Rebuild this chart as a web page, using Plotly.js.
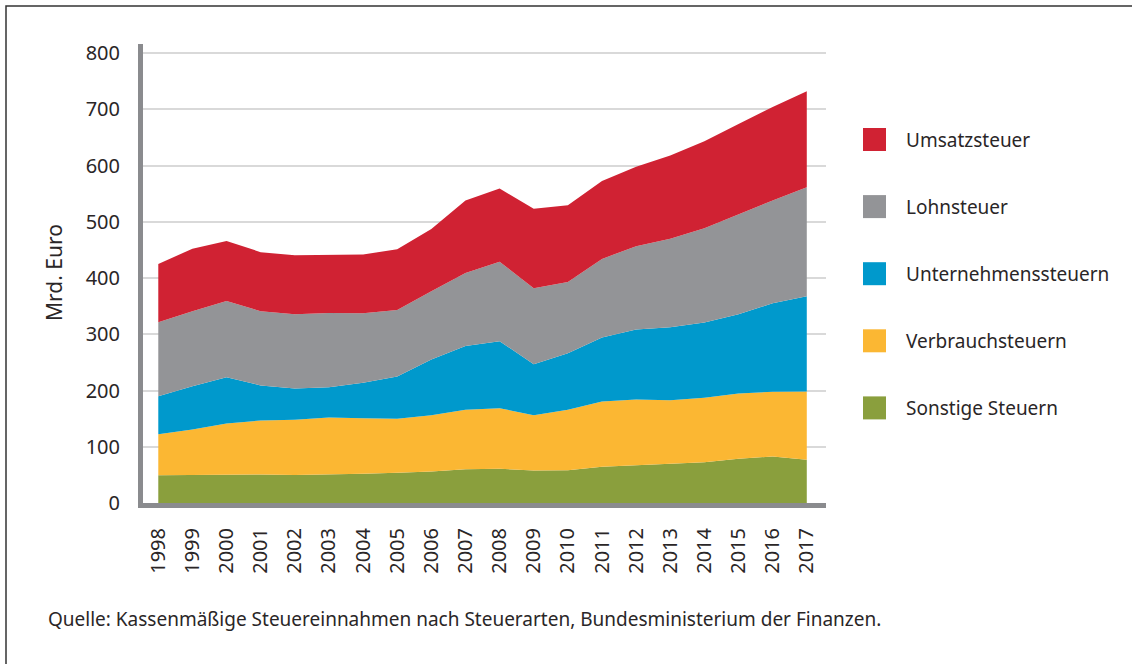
<!DOCTYPE html>
<html>
<head>
<meta charset="utf-8">
<script src="https://cdn.plot.ly/plotly-3.0.1.min.js"></script>
<style>
  html, body { margin: 0; padding: 0; background: #ffffff; }
  #chart { width: 1132px; height: 664px; }
</style>
</head>
<body>
<div id="chart"></div>
<script>
const years = [1998,1999,2000,2001,2002,2003,2004,2005,2006,2007,2008,2009,2010,2011,2012,2013,2014,2015,2016,2017];

const seriesNames = ["Sonstige Steuern", "Verbrauchsteuern", "Unternehmenssteuern", "Lohnsteuer", "Umsatzsteuer"];

const sonstigeSteuern     = [49.5, 50.0, 50.7, 50.7, 50.0, 50.7, 51.9, 53.6, 56.0, 60.0, 60.7, 57.8, 58.4, 64.3, 67.3, 69.6, 72.6, 78.5, 82.7, 76.7];
const verbrauchsteuern    = [72.9, 80.7, 90.6, 96.0, 98.0, 101.3, 98.9, 96.0, 100.0, 106.0, 107.9, 98.2, 107.2, 116.1, 116.7, 113.2, 114.4, 116.2, 114.9, 121.5];
const unternehmenssteuern = [67.6, 77.0, 82.4, 62.3, 55.6, 54.0, 63.2, 75.4, 99.0, 113.0, 119.1, 90.8, 100.7, 113.8, 124.4, 129.8, 134.0, 141.0, 157.4, 169.5];
const lohnsteuer          = [131.5, 133.3, 135.3, 132.0, 132.1, 132.0, 123.5, 118.0, 121.6, 130.0, 141.0, 135.2, 126.7, 139.8, 148.2, 157.0, 167.6, 177.8, 183.0, 193.8];
const umsatzsteuer        = [103.5, 111.0, 107.0, 105.0, 104.8, 103.0, 104.5, 108.0, 110.4, 129.0, 130.3, 141.0, 136.5, 138.5, 141.1, 148.4, 154.4, 160.5, 166.0, 170.5];

const yTicks = [0,100,200,300,400,500,600,700,800];
const yAxisLabel = "Mrd. Euro";
const sourceText = "Quelle: Kassenmäßige Steuereinnahmen nach Steuerarten, Bundesministerium der Finanzen.";

const seriesValues = [sonstigeSteuern, verbrauchsteuern, unternehmenssteuern, lohnsteuer, umsatzsteuer];
const colors = ["#8a9f3d", "#fbb733", "#0099cc", "#939497", "#d02233"];

const sans = "'Noto Sans', sans-serif";
const textColor = "#2a2627";

const traces = seriesNames.map((name, i) => ({
  type: "scatter",
  x: years,
  y: seriesValues[i],
  name: name,
  stackgroup: "one",
  mode: "lines",
  line: { width: 0, color: colors[i] },
  fillcolor: colors[i],
  hoverinfo: "x+y+name"
}));

// legend drawn manually (top item = Umsatzsteuer)
const legendOrder = [4, 3, 2, 1, 0];
const shapes = [];
const annotations = [];
const plotTop = 44, plotBottom = 503, plotLeft = 143, plotRight = 826;
const ph = plotBottom - plotTop, pw = plotRight - plotLeft;
const px = v => (v - plotLeft) / pw;
const py = v => (plotBottom - v) / ph;

legendOrder.forEach((idx, k) => {
  const cy = 139.5 + k * 67.1;
  shapes.push({
    type: "rect", xref: "paper", yref: "paper",
    x0: px(863), x1: px(886), y0: py(cy + 11.5), y1: py(cy - 11.5),
    fillcolor: colors[idx], line: { width: 0 }
  });
  annotations.push({
    xref: "paper", yref: "paper", x: px(904), y: py(cy),
    xanchor: "left", yanchor: "middle", showarrow: false,
    text: seriesNames[idx],
    font: { family: sans, size: 19, color: textColor }
  });
});

// frame
shapes.push({
  type: "rect", xref: "paper", yref: "paper",
  x0: px(6), x1: px(1145), y0: py(680), y1: py(6),
  line: { width: 1.5, color: "#333333" }, fillcolor: "rgba(0,0,0,0)", layer: "below"
});

annotations.push({
  xref: "paper", yref: "paper", x: px(54), y: py(273),
  xanchor: "center", yanchor: "middle", showarrow: false, textangle: -90,
  text: yAxisLabel, font: { family: sans, size: 21, color: textColor }
});
annotations.push({
  xref: "paper", yref: "paper", x: px(46), y: py(619),
  xanchor: "left", yanchor: "middle", showarrow: false,
  text: sourceText, font: { family: sans, size: 19, color: textColor }
});

const layout = {
  width: 1132, height: 664,
  margin: { l: plotLeft, r: 1132 - plotRight, t: plotTop, b: 664 - plotBottom, pad: 0 },
  paper_bgcolor: "#ffffff",
  plot_bgcolor: "#ffffff",
  showlegend: false,
  xaxis: {
    type: "linear",
    range: [1997.552, 2017.563],
    tickmode: "array",
    tickvals: years,
    ticktext: years.map(String),
    tickangle: -90,
    showgrid: false,
    zeroline: false,
    showline: true, linewidth: 5, linecolor: "#8a8b8e",
    ticks: "",
    ticklabelstandoff: 12,
    tickfont: { family: sans, size: 20, color: textColor }
  },
  yaxis: {
    range: [0, 816],
    tickmode: "array",
    tickvals: yTicks,
    ticktext: yTicks.map(String),
    showgrid: true, gridcolor: "#d9d9d9", gridwidth: 2,
    zeroline: false,
    showline: true, linewidth: 5, linecolor: "#8a8b8e",
    ticks: "",
    ticklabelstandoff: 14,
    tickfont: { family: sans, size: 20, color: textColor }
  },
  shapes: shapes,
  annotations: annotations
};

Plotly.newPlot("chart", traces, layout, { displayModeBar: false, staticPlot: true });
</script>
</body>
</html>
